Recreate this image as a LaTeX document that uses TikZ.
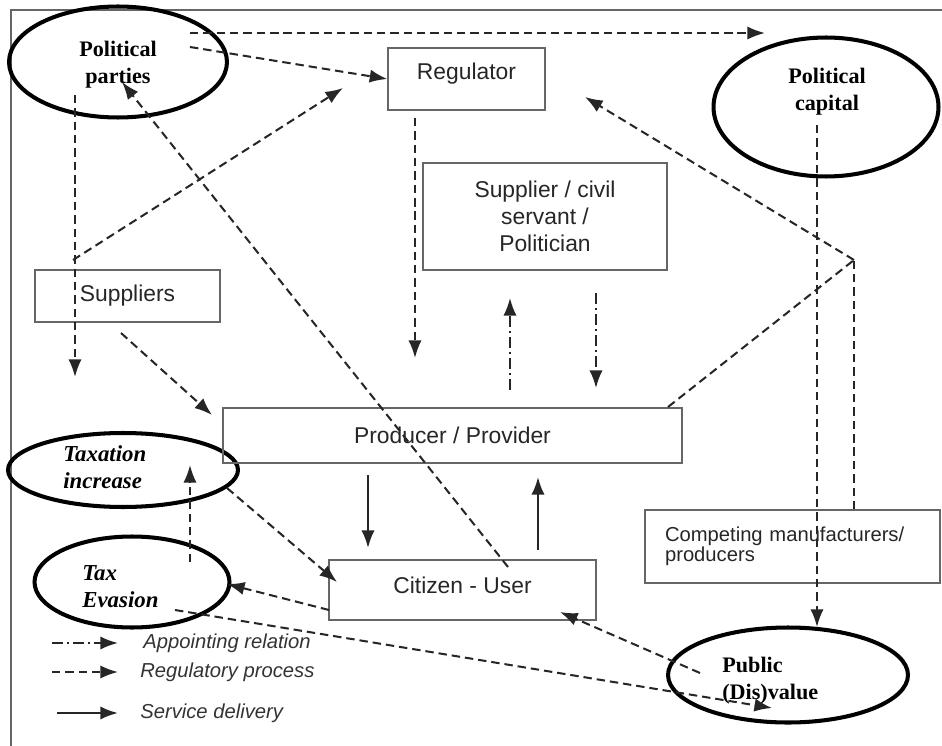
\documentclass[tikz,border=0pt]{standalone}
\usepackage{fontspec}
\setmainfont{Liberation Serif}
\setsansfont{Liberation Sans}
\usetikzlibrary{arrows.meta,shapes.geometric}

\begin{document}
\begin{tikzpicture}[x=0.02cm, y=-0.02cm,
        box/.style={rectangle, draw=black!60, line width=0.8pt, inner sep=0pt, align=center, text=black!85,
            font=\sffamily\fontsize{13}{15.3}\selectfont},
        bubble/.style={ellipse, draw=black, line width=2.3pt, inner sep=0pt},
        bubtext/.style={inner sep=0pt, align=left, font=\rmfamily\bfseries\fontsize{12.6}{15.3}\selectfont},
        ibubtext/.style={bubtext, font=\rmfamily\bfseries\itshape\fontsize{13}{15.3}\selectfont},
        paths/.style={-{Latex[length=10pt,width=7.5pt]}, line width=1.15pt, draw=black!85, dash pattern=on 4.8pt off 2.8pt},
        appoint/.style={-{Latex[length=10pt,width=7.5pt]}, line width=1.15pt, draw=black!85, dash pattern=on 6pt off 2.5pt on 1pt off 2.5pt},
        service/.style={-{Latex[length=10pt,width=7.5pt]}, line width=1.3pt, draw=black!85},
        legend/.style={anchor=west, inner sep=0pt, text=black!80, font=\sffamily\itshape\fontsize{11.5}{13}\selectfont}
    ]
        \useasboundingbox (0,0) rectangle (942,746);

        % Frame
        \draw[black!60, line width=1pt] (11,746) -- (11,10) -- (942,10);

        % Nodes: ellipses
        \node[bubble, minimum width=4.36cm, minimum height=2.22cm] (pparties) at (118,62) {};
        \node[bubble, minimum width=4.5cm, minimum height=2.78cm] (pcapital) at (826,107) {};
        \node[bubble, minimum width=4.6cm, minimum height=1.48cm] (taxinc) at (123,470) {};
        \node[bubble, minimum width=3.9cm, minimum height=1.82cm] (taxev) at (132,582) {};
        \node[bubble, minimum width=4.8cm, minimum height=1.9cm] (pvalue) at (788,675) {};

        \node[bubtext, align=center] (pparties-txt) at (118,65) {Political\\parties};
        \node[bubtext, align=center] (pcapital-txt) at (827,92) {Political\\capital};
        \node[ibubtext, anchor=west] (taxinc-txt) at (63,467) {Taxation\\increase};
        \node[ibubtext, anchor=west] (taxev-txt) at (82,587) {Tax\\Evasion};
        \node[bubtext, anchor=west] (pvalue-txt) at (722,681) {Public\\(Dis)value};

        % Nodes: boxes
        \node[box, minimum width=3.14cm, minimum height=1.24cm, text depth=9pt] (reg) at (466.5,79) {Regulator};
        \node[box, minimum width=4.88cm, minimum height=2.14cm] (supplier) at (545,216.5) {Supplier / civil\\servant /\\Politician};
        \node[box, minimum width=3.7cm, minimum height=1.04cm] (suppliers) at (127.5,296) {Suppliers};
        \node[box, minimum width=9.18cm, minimum height=1.1cm] (prod) at (452.5,435.5) {Producer / Provider};
        \node[box, minimum width=5.34cm, minimum height=1.2cm, text depth=6pt] (citizen) at (462.5,590) {Citizen - User};
        \node[box, text width=5.1cm, inner xsep=0.4cm, minimum height=1.46cm, align=left,
            font=\sffamily\fontsize{11.5}{11.5}\selectfont] (comp) at (792.5,546.5) {Competing manufacturers/\\producers};

        % Free ends of the connectors
        \coordinate (pp-a) at (190,33);
        \coordinate (pc-in) at (765,33);
        \coordinate (pp-b) at (190,47);
        \coordinate (sup-out) at (73,260);
        \coordinate (reg-in) at (343,88);
        \coordinate (pp-c) at (75,95);
        \coordinate (ti-in) at (75,377);
        \coordinate (cu-a) at (508,567);
        \coordinate (pp-in) at (122,82);
        \coordinate (reg-out) at (415,118);
        \coordinate (prod-in) at (415,358);
        \coordinate (sup-a) at (121,333);
        \coordinate (prod-in2) at (212,415);
        \coordinate (ti-out) at (227,488);
        \coordinate (cu-in) at (337,582);
        \coordinate (te-out) at (190,562);
        \coordinate (ti-in2) at (190,465);
        \coordinate (cu-out) at (329,610);
        \coordinate (te-in) at (227,584);
        \coordinate (te-b) at (175,610);
        \coordinate (pv-in) at (772,708);
        \coordinate (pv-out) at (700,673);
        \coordinate (cu-in2) at (560,612);
        \coordinate (pc-out) at (817,125);
        \coordinate (pv-top) at (817,627);
        \coordinate (junction) at (854,260);
        \coordinate (prod-out) at (668,407);
        \coordinate (reg-in2) at (585,97);
        \coordinate (prod-up) at (510,390);
        \coordinate (sp-in) at (510,298);
        \coordinate (sp-out) at (596,293);
        \coordinate (prod-in3) at (596,388);
        \coordinate (prod-down) at (368,475);
        \coordinate (cu-in3) at (368,548);
        \coordinate (cu-up) at (538,550);
        \coordinate (prod-in4) at (538,477);

        % Paths: regulatory process
        \draw[paths] (pp-a) -- (pc-in);
        \draw[paths] (pp-b) -- (reg.west);
        \draw[paths] (sup-out) -- (reg-in);
        \draw[paths] (pp-c) -- (ti-in);
        \draw[paths] (cu-a) -- (pp-in);
        \draw[paths] (reg-out) -- (prod-in);
        \draw[paths] (sup-a) -- (prod-in2);
        \draw[paths] (ti-out) -- (cu-in);
        \draw[paths] (te-out) -- (ti-in2);
        \draw[paths] (cu-out) -- (te-in);
        \draw[paths] (te-b) -- (pv-in);
        \draw[paths] (pv-out) -- (cu-in2);
        \draw[paths] (pc-out) -- (pv-top);
        \draw[paths, -] (prod-out) -- (junction);
        \draw[paths, -] (comp.north -| junction) -- (junction);
        \draw[paths] (junction) -- (reg-in2);

        % Paths: appointing relation
        \draw[appoint] (prod-up) -- (sp-in);
        \draw[appoint] (sp-out) -- (prod-in3);

        % Paths: service delivery
        \draw[service] (prod-down) -- (cu-in3);
        \draw[service] (cu-up) -- (prod-in4);

        % Legend
        \coordinate (app-a) at (52,643);
        \coordinate (app-b) at (118,643);
        \coordinate (reg-a) at (52,672);
        \coordinate (reg-b) at (118,672);
        \coordinate (srv-a) at (57,713);
        \coordinate (srv-b) at (118,713);
        \draw[appoint] (app-a) -- (app-b);
        \draw[paths] (reg-a) -- (reg-b);
        \draw[service] (srv-a) -- (srv-b);
        \node[legend] (app) at (143,643) {Appointing relation};
        \node[legend] (regp) at (140,672) {Regulatory process};
        \node[legend] (srv) at (140,713) {Service delivery};
\end{tikzpicture}
\end{document}
